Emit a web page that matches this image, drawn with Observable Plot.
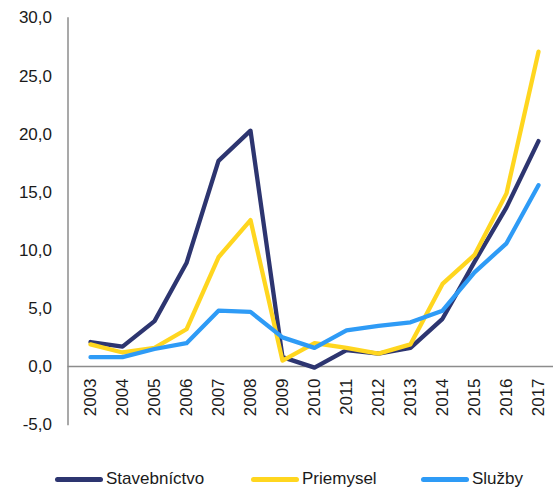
<!DOCTYPE html>
<html>
<head>
<meta charset="utf-8">
<script src="https://cdn.jsdelivr.net/npm/d3@7"></script>
<script src="https://cdn.jsdelivr.net/npm/@observablehq/plot@0.6"></script>
<style>
  html, body { margin: 0; padding: 0; background: #fff; }
  body { width: 553px; height: 488px; position: relative; overflow: hidden; font-family: "Liberation Sans", Arial, sans-serif; }
  #legend { position: absolute; left: 0; top: 466px; width: 553px; height: 26px; }
  .item { position: absolute; top: 0; height: 26px; display: flex; align-items: center; font-size: 17px; color: #1a1a1a; }
  .sw { width: 48px; height: 5px; border-radius: 2.5px; margin-right: 3px; }
</style>
</head>
<body>
<div id="chart"></div>
<div id="legend"></div>
<script>
const years = [2003, 2004, 2005, 2006, 2007, 2008, 2009, 2010, 2011, 2012, 2013, 2014, 2015, 2016, 2017];
const seriesNames = ["Stavebníctvo", "Priemysel", "Služby"];
const stavebnictvo = [2.1, 1.7, 3.9, 8.9, 17.7, 20.3, 0.8, -0.1, 1.4, 1.1, 1.6, 4.1, 9.0, 13.7, 19.4];
const priemysel   = [1.9, 1.2, 1.6, 3.2, 9.4, 12.6, 0.5, 2.0, 1.6, 1.1, 1.9, 7.1, 9.6, 14.9, 27.1];
const sluzby      = [0.8, 0.8, 1.5, 2.0, 4.8, 4.7, 2.5, 1.6, 3.1, 3.5, 3.8, 4.8, 8.1, 10.6, 15.6];
const yTicks = [-5, 0, 5, 10, 15, 20, 25, 30];
const colors = ["#2D3570", "#FFD61F", "#2E9BF6"];

const valuesBySeries = [stavebnictvo, priemysel, sluzby];
const data = [];
seriesNames.forEach((s, i) => {
  years.forEach((yr, j) => data.push({series: s, year: yr, value: valuesBySeries[i][j]}));
});

const fmt = d => d.toFixed(1).replace(".", ",");

const chart = Plot.plot({
  width: 553,
  height: 450,
  marginTop: 17.5,
  marginBottom: 26,
  marginLeft: 67.5,
  marginRight: 0,
  style: {fontFamily: "'Liberation Sans', Arial, sans-serif", fontSize: "17px", color: "#1a1a1a", background: "#fff"},
  x: {type: "point", domain: years, range: [67.5, 561.4], padding: 0.5, axis: null},
  y: {domain: [-5, 30], axis: null},
  color: {domain: seriesNames, range: colors},
  marks: [
    Plot.frame({anchor: "left", stroke: "#8c8c8c", strokeWidth: 1.5}),
    Plot.axisY(yTicks, {tickSize: 0, tickPadding: 16, tickFormat: fmt, label: null, fontSize: 17}),
    Plot.ruleY([0], {stroke: "#8c8c8c", strokeWidth: 1.5}),
    Plot.text(years, {x: d => d, y: () => 0, text: d => String(d), rotate: -90, textAnchor: "end", dy: 12, fontSize: 17, fill: "#1a1a1a"}),
    Plot.line(data, {x: "year", y: "value", z: "series", stroke: "series", strokeWidth: 4.3, strokeLinejoin: "round", strokeLinecap: "round"})
  ]
});
document.getElementById("chart").appendChild(chart);

const legend = document.getElementById("legend");
const legendLeft = [55, 251, 421];
seriesNames.forEach((s, i) => {
  const item = document.createElement("div");
  item.className = "item";
  item.style.left = legendLeft[i] + "px";
  const sw = document.createElement("span");
  sw.className = "sw";
  sw.style.background = colors[i];
  const t = document.createElement("span");
  t.textContent = s;
  item.appendChild(sw);
  item.appendChild(t);
  legend.appendChild(item);
});
</script>
</body>
</html>
